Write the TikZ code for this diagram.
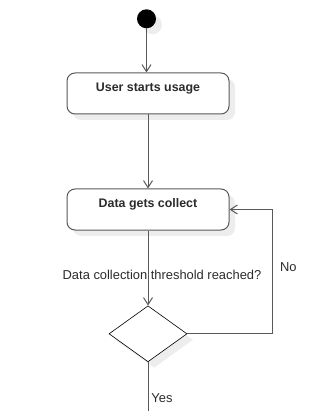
\documentclass[tikz,border=0pt]{standalone}
\usepackage{fontspec}
\setmainfont{Liberation Sans}
\usetikzlibrary{shapes.geometric, arrows.meta, positioning, shadows}
\definecolor{edge_gray}{HTML}{595959}
\definecolor{text_gray}{HTML}{2b2b2b}
\tikzset{
  flow_font/.style = {font=\fontsize{12.9}{15}\selectfont, text=text_gray},
  soft_shadow/.style = {drop shadow={shadow xshift=6pt, shadow yshift=-6pt, fill=black!7, opacity=1}}
}
\tikzset{
  start_dot/.style = {circle, fill=black, minimum size=19pt, inner sep=0, soft_shadow},
  activity/.style = {font=\fontsize{12.4}{14}\selectfont\bfseries, text=text_gray, draw=edge_gray, line width=1pt,
    rounded corners=8pt, fill=white, minimum width=162pt, minimum height=41pt,
    text height=9pt, text depth=13.5pt, soft_shadow},
  choice/.style = {diamond, draw=black, line width=0.6pt, fill=white, minimum width=78pt, minimum height=56pt,
    inner sep=0, soft_shadow},
  plain_flow/.style = {draw=edge_gray, line width=1pt},
  flow/.style = {plain_flow, -{Straight Barb[length=7pt, width=9pt]}},
  guard/.style = {flow_font}
}
\begin{document}
\begin{tikzpicture}[x=1pt, y=-1pt, node distance=74pt]
    \useasboundingbox (0,0) rectangle (335,411);

    % Activities
    \node[activity] (usage) at (148,93.5) {User starts usage};
    \node[start_dot, above=44pt of usage, xshift=-1.5pt] (start) {};
    \node[activity, below=of usage] (collect) {Data gets collect};
    \node[choice, below=75pt of collect] (threshold) {};
    \coordinate (page_bottom) at (0,411);
    \coordinate (yes_end) at (threshold.south |- page_bottom);

    % Arrows and lines
    \draw[flow] (start) -- (start |- usage.north);
    \draw[flow] (usage) -- (collect);
    \draw[flow] (collect) -- node[guard, pos=0.59, xshift=14pt] (guard_q) {Data collection threshold reached?} (threshold);
    \draw[flow] (threshold.east) -- ++(85,0) |- node[guard, pos=0.267, xshift=16pt] (no_label) {No} (collect.east);
    \draw[plain_flow] (threshold) -- node[guard, pos=0.745, xshift=14pt] (yes_label) {Yes} (yes_end);
\end{tikzpicture}
\end{document}
